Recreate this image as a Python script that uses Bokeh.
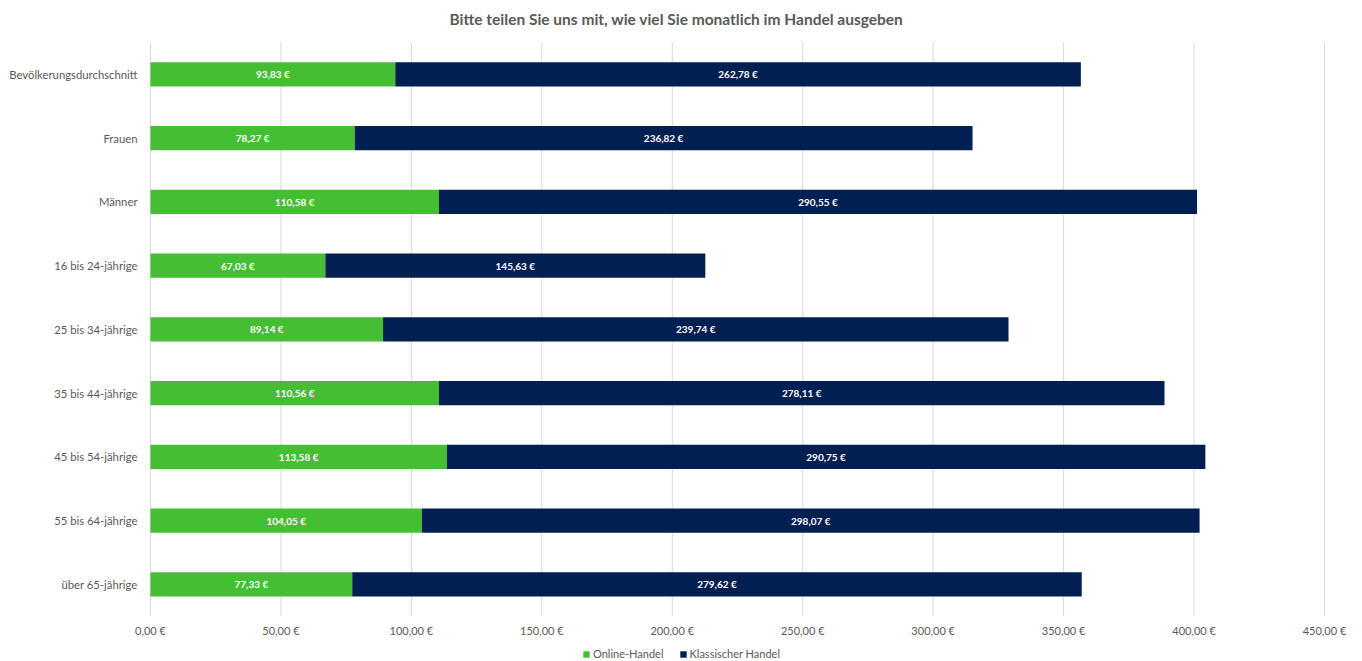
from bokeh.plotting import figure
from bokeh.models import ColumnDataSource, Range1d, LabelSet, Legend, LegendItem
from bokeh.core.properties import value
from bokeh.embed import file_html
from bokeh.resources import INLINE

title = "Bitte teilen Sie uns mit, wie viel Sie monatlich im Handel ausgeben"
categories = ["Bevölkerungsdurchschnitt", "Frauen", "Männer", "16 bis 24-jährige",
              "25 bis 34-jährige", "35 bis 44-jährige", "45 bis 54-jährige",
              "55 bis 64-jährige", "über 65-jährige"]
online = [93.83, 78.27, 110.58, 67.03, 89.14, 110.56, 113.58, 104.05, 77.33]
klassisch = [262.78, 236.82, 290.55, 145.63, 239.74, 278.11, 290.75, 298.07, 279.62]
x_ticks = [0, 50, 100, 150, 200, 250, 300, 350, 400, 450]
series_names = ["Online-Handel", "Klassischer Handel"]

GREEN = "#46BE34"
NAVY = "#021F52"
GRAY = "#595959"
FONT = "Lato"

W, H = 1362, 661
# layout of the plotting area in pixels
PL, PR, PT = 150, 1324, 42
BAND = 63.75
XMAX = x_ticks[-1]
sx = (PR - PL) / XMAX

def px_x(px):
    return (px - PL) / sx

n = len(categories)
top = n - 0.5

def px_y(px):
    return top - (px - PT) / BAND

def eur(v):
    return f"{v:,.2f}".replace(",", "X").replace(".", ",").replace("X", ".") + " €"

ypos = [n - 1 - i for i in range(n)]  # first category at the top

src = ColumnDataSource(dict(
    y=ypos, online=online, klassisch=klassisch, cat=categories,
    on_mid=[o / 2 for o in online],
    kl_mid=[o + k / 2 for o, k in zip(online, klassisch)],
    on_lab=[eur(v) for v in online],
    kl_lab=[eur(v) for v in klassisch],
))

p = figure(width=W, height=H, output_backend="svg", toolbar_location=None,
           x_range=Range1d(px_x(0), px_x(W)), y_range=Range1d(px_y(H), px_y(0)),
           x_axis_location=None, y_axis_location=None,
           min_border=0)
p.outline_line_color = None
p.xgrid.grid_line_color = None
p.ygrid.grid_line_color = None

# vertical grid lines at the tick values, spanning the category bands
grid = ColumnDataSource(dict(x=x_ticks, y0=[-0.5] * len(x_ticks), y1=[top] * len(x_ticks)))
p.segment(x0="x", x1="x", y0="y0", y1="y1", source=grid, line_color="#D9D9D9", line_width=1)

r = p.hbar_stack(["online", "klassisch"], y="y", height=0.38, color=[GREEN, NAVY],
                 line_color=None, source=src)

for xcol, tcol in (("on_mid", "on_lab"), ("kl_mid", "kl_lab")):
    p.add_layout(LabelSet(x=xcol, y="y", text=tcol, source=src, text_color="white",
                          text_font=value(FONT), text_font_size="10px", text_font_style="bold",
                          text_align="center", text_baseline="middle"))

# category labels (y axis)
p.text(x=0, y="y", text="cat", source=src, x_offset=-13, text_font=value(FONT),
       text_font_size="11.3px", text_color=GRAY, text_align="right", text_baseline="middle")

# x tick labels
tick_src = ColumnDataSource(dict(x=x_ticks, y=[px_y(630)] * len(x_ticks),
                                 t=[eur(t) for t in x_ticks]))
p.text(x="x", y="y", text="t", source=tick_src, text_font=value(FONT), text_font_size="11px",
       text_color=GRAY, text_align="center", text_baseline="middle")

# title
p.text(x=[px_x(676)], y=[px_y(18)], text=[title], text_font=value(FONT),
       text_font_size="15.5px", text_font_style="bold", text_color=GRAY,
       text_align="center", text_baseline="middle")

legend = Legend(items=[LegendItem(label=series_names[0], renderers=[r[0]]),
                       LegendItem(label=series_names[1], renderers=[r[1]])],
                orientation="horizontal", location=(582, 1),
                label_text_font=FONT, label_text_font_size="11px", label_text_color=GRAY,
                glyph_width=8, glyph_height=8, label_standoff=3, spacing=15,
                padding=0, margin=0, border_line_color=None, background_fill_alpha=0,
                label_height=12)
p.add_layout(legend, "center")

open("out.html", "w").write(file_html(p, INLINE))
